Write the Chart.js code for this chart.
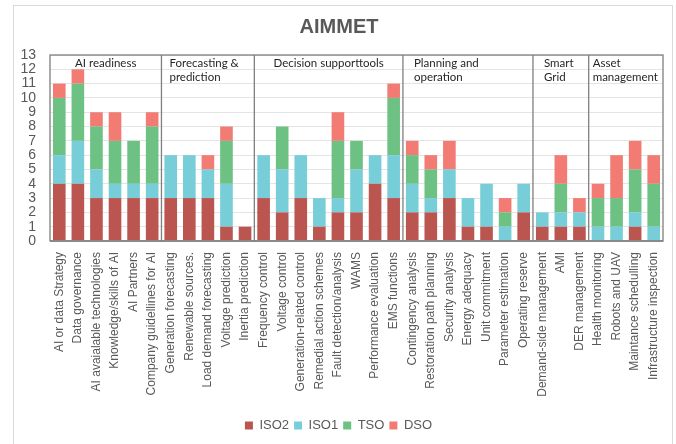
<!DOCTYPE html>
<html lang="en">
  <head>
    <meta charset="UTF-8" />
    <title>AIMMET</title>
    <script src="https://cdn.jsdelivr.net/npm/chart.js"></script>
    <style>
      body { margin: 0; background: #fff; }
    </style>
  </head>
  <body>
    <canvas id="myChart" width="676" height="444"></canvas>
    <script>
      const categories = [
        "AI or data Strategy", "Data governance", "AI avaialable technologies", "Knowledge/skills of AI",
        "AI Partners", "Company guidellines for AI",
        "Generation forecasting", "Renewable sources.", "Load demand forecasting", "Voltage prediction", "Inertia prediction",
        "Frequency control", "Voltage control", "Generation-related control", "Remedial action schemes",
        "Fault detection/analysis", "WAMS", "Performance evaluation", "EMS functions",
        "Contingency analysis", "Restoration path planning", "Security analysis", "Energy adequacy",
        "Unit commitment", "Parameter estimation", "Operating reserve",
        "Demand-side management", "AMI", "DER management",
        "Health monitoring", "Robots and UAV", "Maintance schedulling", "Infrastructure inspection",
      ];
      const iso2 = [4, 4, 3, 3, 3, 3, 3, 3, 3, 1, 1, 3, 2, 3, 1, 2, 2, 4, 3, 2, 2, 3, 1, 1, 0, 2, 1, 1, 1, 0, 0, 1, 0];
      const iso1 = [2, 3, 2, 1, 1, 1, 3, 3, 2, 3, 0, 3, 3, 3, 2, 1, 3, 2, 3, 2, 1, 2, 2, 3, 1, 2, 1, 1, 1, 1, 1, 1, 1];
      const tso = [4, 4, 3, 3, 3, 4, 0, 0, 0, 3, 0, 0, 3, 0, 0, 4, 2, 0, 4, 2, 2, 0, 0, 0, 1, 0, 0, 2, 0, 2, 2, 3, 3];
      const dso = [1, 1, 1, 2, 0, 1, 0, 0, 1, 1, 0, 0, 0, 0, 0, 2, 0, 0, 1, 1, 1, 2, 0, 0, 1, 0, 0, 2, 1, 1, 3, 2, 2];

      const groupNames = [
        ["AI readiness"],
        ["Forecasting &", "prediction"],
        ["Decision supporttools"],
        ["Planning and", "operation"],
        ["Smart", "Grid"],
        ["Asset", "management"],
      ];
      const groupSizes = [6, 5, 8, 7, 3, 4];

      const grey = "#595959";
      const sans = "'Liberation Sans', Arial, sans-serif";

      // frame, title, group boxes and their captions
      const groupPlugin = {
        id: "groups",
        afterUpdate(chart, args, opts) {
          // nudge the legend a bit to the right like in the original
          (chart.legend.legendHitBoxes || []).forEach((b) => { b.left += opts.legendShift; });
        },
        beforeDraw(chart) {
          const ctx = chart.ctx;
          ctx.save();
          ctx.strokeStyle = "#d9d9d9";
          ctx.lineWidth = 1;
          ctx.strokeRect(13.5, 5.5, 659, 460);
          ctx.fillStyle = grey;
          ctx.font = "bold 20px " + sans;
          ctx.textAlign = "center";
          ctx.textBaseline = "middle";
          ctx.fillText("AIMMET", 339, 27);
          ctx.restore();
        },
        afterDatasetsDraw(chart, args, opts) {
          const { ctx, chartArea: a, scales } = chart;
          const x = scales.x;
          const w = (a.right - a.left) / categories.length;
          ctx.save();
          ctx.strokeStyle = "#a0a0a0";
          ctx.lineWidth = 2;
          ctx.beginPath();
          ctx.moveTo(a.left, a.bottom);
          ctx.lineTo(a.right, a.bottom);
          ctx.stroke();
          ctx.strokeStyle = "#7f7f7f";
          ctx.lineWidth = 1.3;
          ctx.strokeRect(a.left, a.top, a.right - a.left, a.bottom - a.top);
          ctx.font = "11.5px Lato, 'Open Sans', sans-serif";
          ctx.fillStyle = "#262626";
          ctx.textBaseline = "middle";
          let start = 0;
          groupSizes.forEach((n, g) => {
            const x0 = x.getPixelForValue(start) - w / 2;
            const x1 = x.getPixelForValue(start + n - 1) + w / 2;
            if (start > 0) {
              ctx.beginPath();
              ctx.moveTo(x0, a.top);
              ctx.lineTo(x0, a.bottom);
              ctx.stroke();
            }
            const lines = groupNames[g];
            lines.forEach((t, i) => {
              const y = a.top + 8 + i * 14;
              if (lines.length === 1) {
                ctx.textAlign = "center";
                ctx.fillText(t, (x0 + x1) / 2, y);
              } else {
                ctx.textAlign = "left";
                ctx.fillText(t, x0 + opts.pad[g], y);
              }
            });
            start += n;
          });
          ctx.restore();
        },
      };

      const ctx = document.getElementById("myChart");
      const myChart = new Chart(ctx, {
        type: "bar",
        data: {
          labels: categories,
          datasets: [
            { label: "ISO2", data: iso2, backgroundColor: "#BA5550" },
            { label: "ISO1", data: iso1, backgroundColor: "#78CED8" },
            { label: "TSO", data: tso, backgroundColor: "#6DC183" },
            { label: "DSO", data: dso, backgroundColor: "#F27B73" },
          ],
        },
        plugins: [groupPlugin],
        options: {
          responsive: false,
          animation: false,
          layout: { padding: { left: 14, right: 13, top: 55, bottom: 2 } },
          datasets: { bar: { categoryPercentage: 1, barPercentage: 0.68 } },
          scales: {
            x: {
              stacked: true,
              grid: { display: false },
              border: { display: false },
              ticks: {
                autoSkip: false,
                minRotation: 90,
                maxRotation: 90,
                padding: 3,
                color: grey,
                font: { family: sans, size: 12 },
              },
              afterFit: (s) => { s.height = 173; },
            },
            y: {
              stacked: true,
              min: 0,
              max: 13,
              ticks: { stepSize: 1, autoSkip: false, color: grey, font: { family: sans, size: 14 }, padding: 14 },
              grid: { color: "#e4e4e4", drawTicks: false },
              border: { display: false },
              afterFit: (s) => { s.width = 36; },
            },
          },
          plugins: {
            title: { display: false },
            tooltip: { enabled: false },
            groups: { pad: [0, 8, 0, 11, 11, 4], legendShift: 9 },
            legend: {
              position: "bottom",
              labels: { boxWidth: 8, boxHeight: 8, padding: 5, color: grey, font: { family: sans, size: 13 } },
            },
          },
        },
      });
    </script>
  </body>
</html>
